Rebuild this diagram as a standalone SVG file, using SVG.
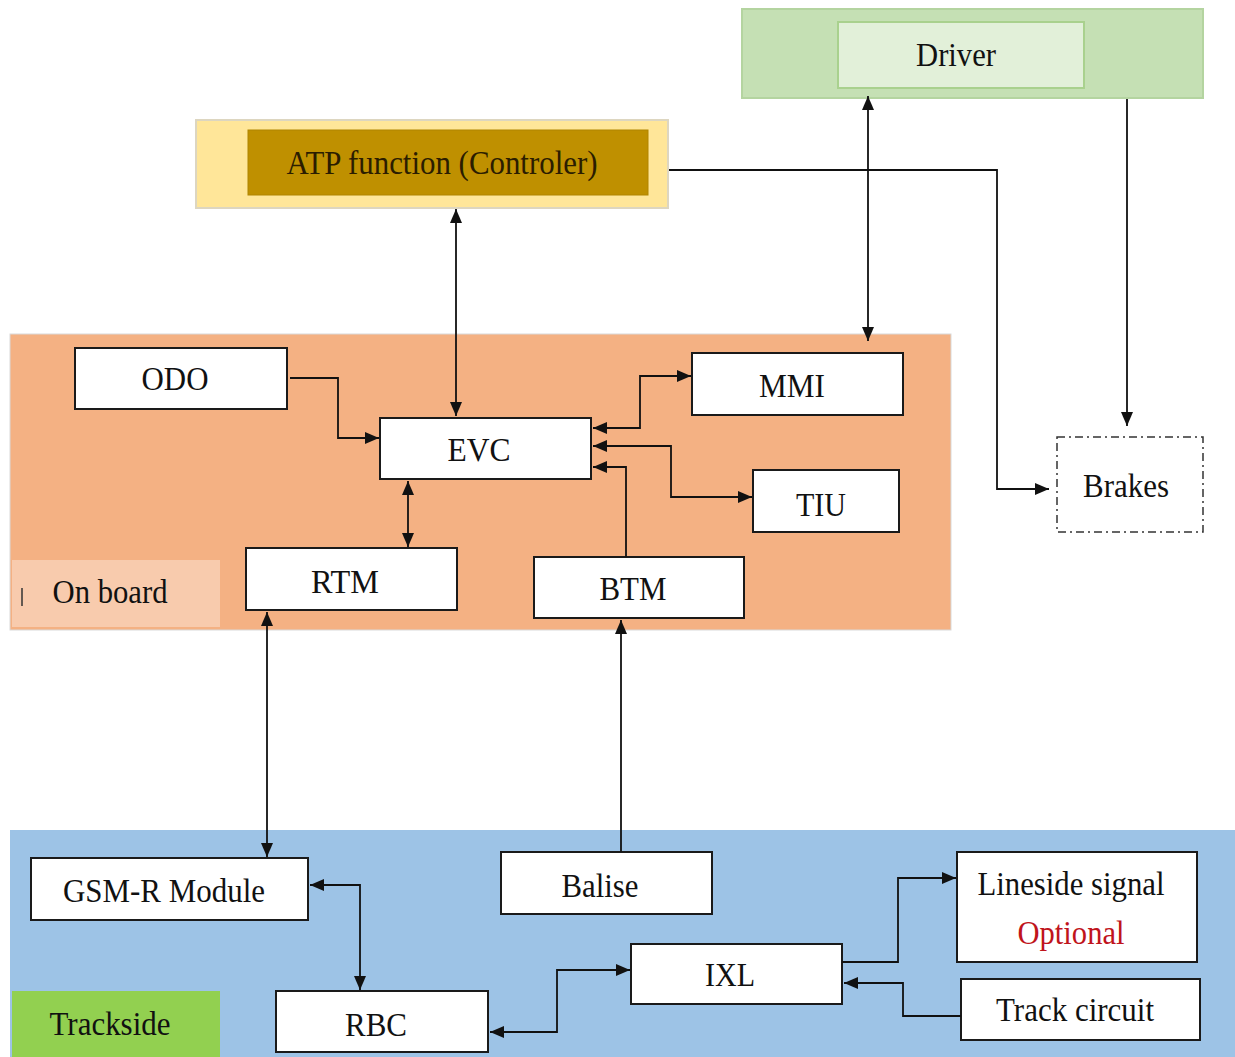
<svg xmlns="http://www.w3.org/2000/svg" width="1235" height="1057" viewBox="0 0 1235 1057" font-family="'Liberation Serif', 'Times New Roman', 'DejaVu Serif', serif">
  <style>
    text { font-family: "Liberation Serif", "Times New Roman", "DejaVu Serif", serif; font-size: 34px; text-anchor: middle; }
    .lbl { fill: #111; }
    .atp-lbl { fill: #2b1d00; }
    .opt { fill: #c0141c; }
    .box { fill: #ffffff; stroke: #1a1a1a; stroke-width: 2; }
    .wire { fill: none; stroke: #111; stroke-width: 1.8; }
  </style>
  <defs>
    <marker id="head" viewBox="0 0 14 12" refX="14" refY="6" markerWidth="14" markerHeight="12" markerUnits="userSpaceOnUse" orient="auto-start-reverse">
      <path d="M0,0 L14,6 L0,12 z" fill="#111"/>
    </marker>
  </defs>

  <rect width="1235" height="1057" fill="#ffffff"/>

  <!-- Zones -->
  <g id="zone-onboard">
    <rect x="10" y="334" width="941" height="296" fill="#f4b183" stroke="#d9d9d9" stroke-width="1"/>
    <rect x="12" y="560" width="208" height="67" fill="#f8cbad"/>
    <line x1="22" y1="588" x2="22" y2="606" stroke="#333" stroke-width="1.5"/>
    <text class="lbl" x="110" y="603" textLength="115" lengthAdjust="spacingAndGlyphs">On board</text>
  </g>
  <g id="zone-trackside">
    <rect x="10" y="830" width="1225" height="227" fill="#9dc3e6"/>
    <rect x="12" y="991" width="208" height="66" fill="#92d050"/>
    <text class="lbl" x="110" y="1035" textLength="121" lengthAdjust="spacingAndGlyphs">Trackside</text>
  </g>

  <!-- Nodes -->
  <g id="driver">
    <rect x="742" y="9" width="461" height="89" fill="#c5e0b4" stroke="#b4d4a0" stroke-width="2"/>
    <rect x="838" y="22" width="246" height="66" fill="#e2f0d9" stroke="#a9d18e" stroke-width="2"/>
    <text class="lbl" x="956" y="66" textLength="80" lengthAdjust="spacingAndGlyphs">Driver</text>
  </g>
  <g id="atp">
    <rect x="196" y="120" width="472" height="88" fill="#ffe699" stroke="#ddd6c0" stroke-width="2"/>
    <rect x="248" y="130" width="400" height="65" fill="#bf9000" stroke="#b08400" stroke-width="1"/>
    <text class="atp-lbl" x="442" y="174" textLength="311" lengthAdjust="spacingAndGlyphs">ATP function (Controler)</text>
  </g>
  <g id="odo">
    <rect class="box" x="75" y="348" width="212" height="61"/>
    <text class="lbl" x="175" y="390" textLength="67" lengthAdjust="spacingAndGlyphs">ODO</text>
  </g>
  <g id="evc">
    <rect class="box" x="380" y="418" width="211" height="61"/>
    <text class="lbl" x="479" y="461" textLength="63" lengthAdjust="spacingAndGlyphs">EVC</text>
  </g>
  <g id="mmi">
    <rect class="box" x="692" y="353" width="211" height="62"/>
    <text class="lbl" x="792" y="397" textLength="66" lengthAdjust="spacingAndGlyphs">MMI</text>
  </g>
  <g id="tiu">
    <rect class="box" x="753" y="470" width="146" height="62"/>
    <text class="lbl" x="821" y="516" textLength="50" lengthAdjust="spacingAndGlyphs">TIU</text>
  </g>
  <g id="rtm">
    <rect class="box" x="246" y="548" width="211" height="62"/>
    <text class="lbl" x="345" y="593" textLength="68" lengthAdjust="spacingAndGlyphs">RTM</text>
  </g>
  <g id="btm">
    <rect class="box" x="534" y="557" width="210" height="61"/>
    <text class="lbl" x="633" y="600" textLength="67" lengthAdjust="spacingAndGlyphs">BTM</text>
  </g>
  <g id="brakes">
    <rect x="1057" y="437" width="146" height="95" fill="#ffffff" stroke="#333" stroke-width="1.5" stroke-dasharray="8,4,2,4"/>
    <text class="lbl" x="1126" y="497" textLength="86" lengthAdjust="spacingAndGlyphs">Brakes</text>
  </g>
  <g id="gsmr">
    <rect class="box" x="31" y="858" width="277" height="62"/>
    <text class="lbl" x="164" y="902" textLength="202" lengthAdjust="spacingAndGlyphs">GSM-R Module</text>
  </g>
  <g id="balise">
    <rect class="box" x="501" y="852" width="211" height="62"/>
    <text class="lbl" x="600" y="897" textLength="77" lengthAdjust="spacingAndGlyphs">Balise</text>
  </g>
  <g id="lineside">
    <rect class="box" x="957" y="852" width="240" height="110"/>
    <text class="lbl" x="1071" y="895" textLength="187" lengthAdjust="spacingAndGlyphs">Lineside signal</text>
    <text class="opt" x="1071" y="944" textLength="107" lengthAdjust="spacingAndGlyphs">Optional</text>
  </g>
  <g id="ixl">
    <rect class="box" x="631" y="944" width="211" height="60"/>
    <text class="lbl" x="730" y="986" textLength="50" lengthAdjust="spacingAndGlyphs">IXL</text>
  </g>
  <g id="track-circuit">
    <rect class="box" x="961" y="979" width="239" height="61"/>
    <text class="lbl" x="1075" y="1021" textLength="158" lengthAdjust="spacingAndGlyphs">Track circuit</text>
  </g>
  <g id="rbc">
    <rect class="box" x="276" y="991" width="212" height="61"/>
    <text class="lbl" x="376" y="1036" textLength="62" lengthAdjust="spacingAndGlyphs">RBC</text>
  </g>

  <!-- Connectors -->
  <g id="connectors">
    <path class="wire" d="M456,209 L456,416" marker-start="url(#head)" marker-end="url(#head)"/>
    <path class="wire" d="M669,170 L997,170 L997,489 L1049,489" marker-end="url(#head)"/>
    <path class="wire" d="M1127,99 L1127,426" marker-end="url(#head)"/>
    <path class="wire" d="M868,96 L868,341" marker-start="url(#head)" marker-end="url(#head)"/>
    <path class="wire" d="M290,378 L338,378 L338,438 L379,438" marker-end="url(#head)"/>
    <path class="wire" d="M593,428 L640,428 L640,376 L691,376" marker-start="url(#head)" marker-end="url(#head)"/>
    <path class="wire" d="M593,446 L671,446 L671,497 L752,497" marker-start="url(#head)" marker-end="url(#head)"/>
    <path class="wire" d="M626,557 L626,467 L593,467" marker-end="url(#head)"/>
    <path class="wire" d="M408,481 L408,547" marker-start="url(#head)" marker-end="url(#head)"/>
    <path class="wire" d="M267,612 L267,857" marker-start="url(#head)" marker-end="url(#head)"/>
    <path class="wire" d="M621,852 L621,620" marker-end="url(#head)"/>
    <path class="wire" d="M310,885 L360,885 L360,990" marker-start="url(#head)" marker-end="url(#head)"/>
    <path class="wire" d="M490,1032 L557,1032 L557,970 L630,970" marker-start="url(#head)" marker-end="url(#head)"/>
    <path class="wire" d="M842,962 L898,962 L898,878 L956,878" marker-end="url(#head)"/>
    <path class="wire" d="M961,1016 L903,1016 L903,983 L844,983" marker-end="url(#head)"/>
  </g>
</svg>
